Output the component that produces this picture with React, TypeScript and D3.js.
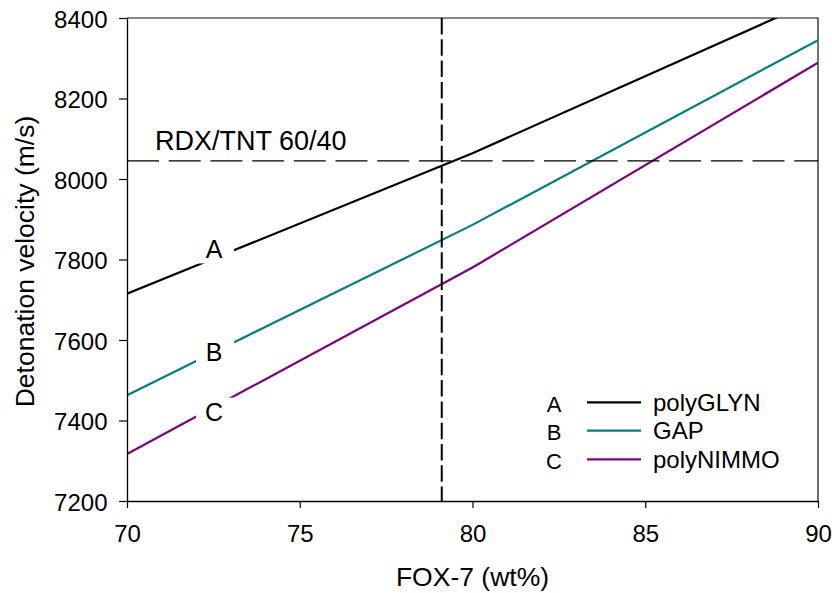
import React, { useEffect, useRef } from 'react';
import * as d3 from 'd3';

// FOX-7 content (wt%) where each curve was read
const foxWt = [70, 80, 90];
const polyGLYN = [7715, 8064, 8447];
const gap = [7463, 7886, 8345];
const polyNIMMO = [7317, 7780, 8289];

const seriesNames = ['polyGLYN', 'GAP', 'polyNIMMO'];
const seriesLetters = ['A', 'B', 'C'];
const seriesColors = ['#000000', '#008080', '#800080'];

// in-plot letter labels (x, y in data units)
const letterX = 72.52;
const letterY = [7825, 7569, 7422];

const xTicks = [70, 75, 80, 85, 90];
const yTicks = [7200, 7400, 7600, 7800, 8000, 8200, 8400];

// reference lines
const refFox = 79.11;
const refVelocity = 8045;
const refLabel = 'RDX/TNT 60/40';

const W = 832;
const H = 593;
const margin = { top: 18, right: 14, bottom: 92, left: 127 };
const FONT = '"Liberation Sans", Arial, sans-serif';

const App = () => {
  const svgRef = useRef<SVGSVGElement>(null);

  useEffect(() => {
    const svg = d3.select(svgRef.current);
    svg.selectAll('*').remove();

    const x = d3.scaleLinear().domain([70, 90]).range([margin.left, W - margin.right]);
    const y = d3.scaleLinear().domain([7200, 8400]).range([H - margin.bottom, margin.top]);

    svg.append('defs').append('clipPath').attr('id', 'plot-clip')
      .append('rect')
      .attr('x', x(70)).attr('y', y(8400))
      .attr('width', x(90) - x(70)).attr('height', y(7200) - y(8400));

    // frame (top + right)
    svg.append('path')
      .attr('d', `M${x(70)},${y(8400)}H${x(90)}V${y(7200)}`)
      .attr('fill', 'none').attr('stroke', '#111').attr('stroke-width', 1.2);

    const series = [polyGLYN, gap, polyNIMMO];
    const line = d3.line<number>().x((_, i) => x(foxWt[i])).y(d => y(d));

    const plot = svg.append('g').attr('clip-path', 'url(#plot-clip)');
    series.forEach((vals, i) => {
      plot.append('path')
        .datum(vals)
        .attr('d', line)
        .attr('fill', 'none')
        .attr('stroke', seriesColors[i])
        .attr('stroke-width', 2.2);
    });

    // dashed reference lines
    plot.append('line')
      .attr('x1', x(70)).attr('x2', x(90))
      .attr('y1', y(refVelocity)).attr('y2', y(refVelocity))
      .attr('stroke', '#000').attr('stroke-width', 1.4)
      .attr('stroke-dasharray', '32,9.7');
    plot.append('line')
      .attr('x1', x(refFox)).attr('x2', x(refFox))
      .attr('y1', y(8400)).attr('y2', y(7200))
      .attr('stroke', '#000').attr('stroke-width', 2)
      .attr('stroke-dasharray', '16.5,4.8');

    svg.append('text')
      .attr('x', x(70.81)).attr('y', y(8072))
      .attr('font-family', FONT).attr('font-size', 27)
      .text(refLabel);

    // letter labels with white knock-out
    letterY.forEach((v, i) => {
      const g = svg.append('g').attr('transform', `translate(${x(letterX)},${y(v)})`);
      g.append('rect').attr('x', -18).attr('y', -14).attr('width', 38).attr('height', 28).attr('fill', '#fff');
      g.append('text')
        .attr('text-anchor', 'middle').attr('dy', '0.36em')
        .attr('font-family', FONT).attr('font-size', 25)
        .text(seriesLetters[i]);
    });

    // axes
    const xAxis = d3.axisBottom(x).tickValues(xTicks).tickSize(7).tickPadding(17).tickSizeOuter(0)
      .tickFormat(d3.format('d'));
    const yAxis = d3.axisLeft(y).tickValues(yTicks).tickSize(8).tickPadding(11.5).tickSizeOuter(0)
      .tickFormat(d3.format('d'));

    const gx = svg.append('g').attr('transform', `translate(0,${y(7200)})`).call(xAxis);
    const gy = svg.append('g').attr('transform', `translate(${x(70)},0)`).call(yAxis);
    [gx, gy].forEach(g => {
      g.select('.domain').attr('stroke', '#000').attr('stroke-width', 1.3);
      g.selectAll('.tick line').attr('stroke', '#000').attr('stroke-width', 1.2);
      g.selectAll('.tick text')
        .attr('fill', '#000')
        .attr('font-family', FONT)
        .attr('font-size', 24);
    });
    gy.selectAll('.tick text').attr('dy', '0.38em');

    svg.append('text')
      .attr('x', (x(70) + x(90)) / 2).attr('y', 586)
      .attr('text-anchor', 'middle')
      .attr('font-family', FONT).attr('font-size', 26.5)
      .text('FOX-7 (wt%)');
    svg.append('text')
      .attr('transform', `translate(34,${(y(7200) + y(8400)) / 2 + 2}) rotate(-90)`)
      .attr('text-anchor', 'middle')
      .attr('font-family', FONT).attr('font-size', 26.5)
      .text('Detonation velocity (m/s)');

    // legend
    const legendRows = [402.3, 430.7, 459.3];
    seriesNames.forEach((name, i) => {
      const ly = legendRows[i];
      svg.append('text')
        .attr('x', 554).attr('y', ly + 1.5).attr('dy', '0.36em')
        .attr('text-anchor', 'middle')
        .attr('font-family', FONT).attr('font-size', 22)
        .text(seriesLetters[i]);
      svg.append('line')
        .attr('x1', 587).attr('x2', 641).attr('y1', ly).attr('y2', ly)
        .attr('stroke', seriesColors[i]).attr('stroke-width', 2.2);
      svg.append('text')
        .attr('x', 653).attr('y', ly).attr('dy', '0.36em')
        .attr('font-family', FONT).attr('font-size', 24)
        .text(name);
    });
  }, []);

  return (
    <svg
      ref={svgRef}
      width={W}
      height={H}
      style={{ position: 'absolute', left: 0, top: 0, background: '#fff' }}
    />
  );
};

export default App;
